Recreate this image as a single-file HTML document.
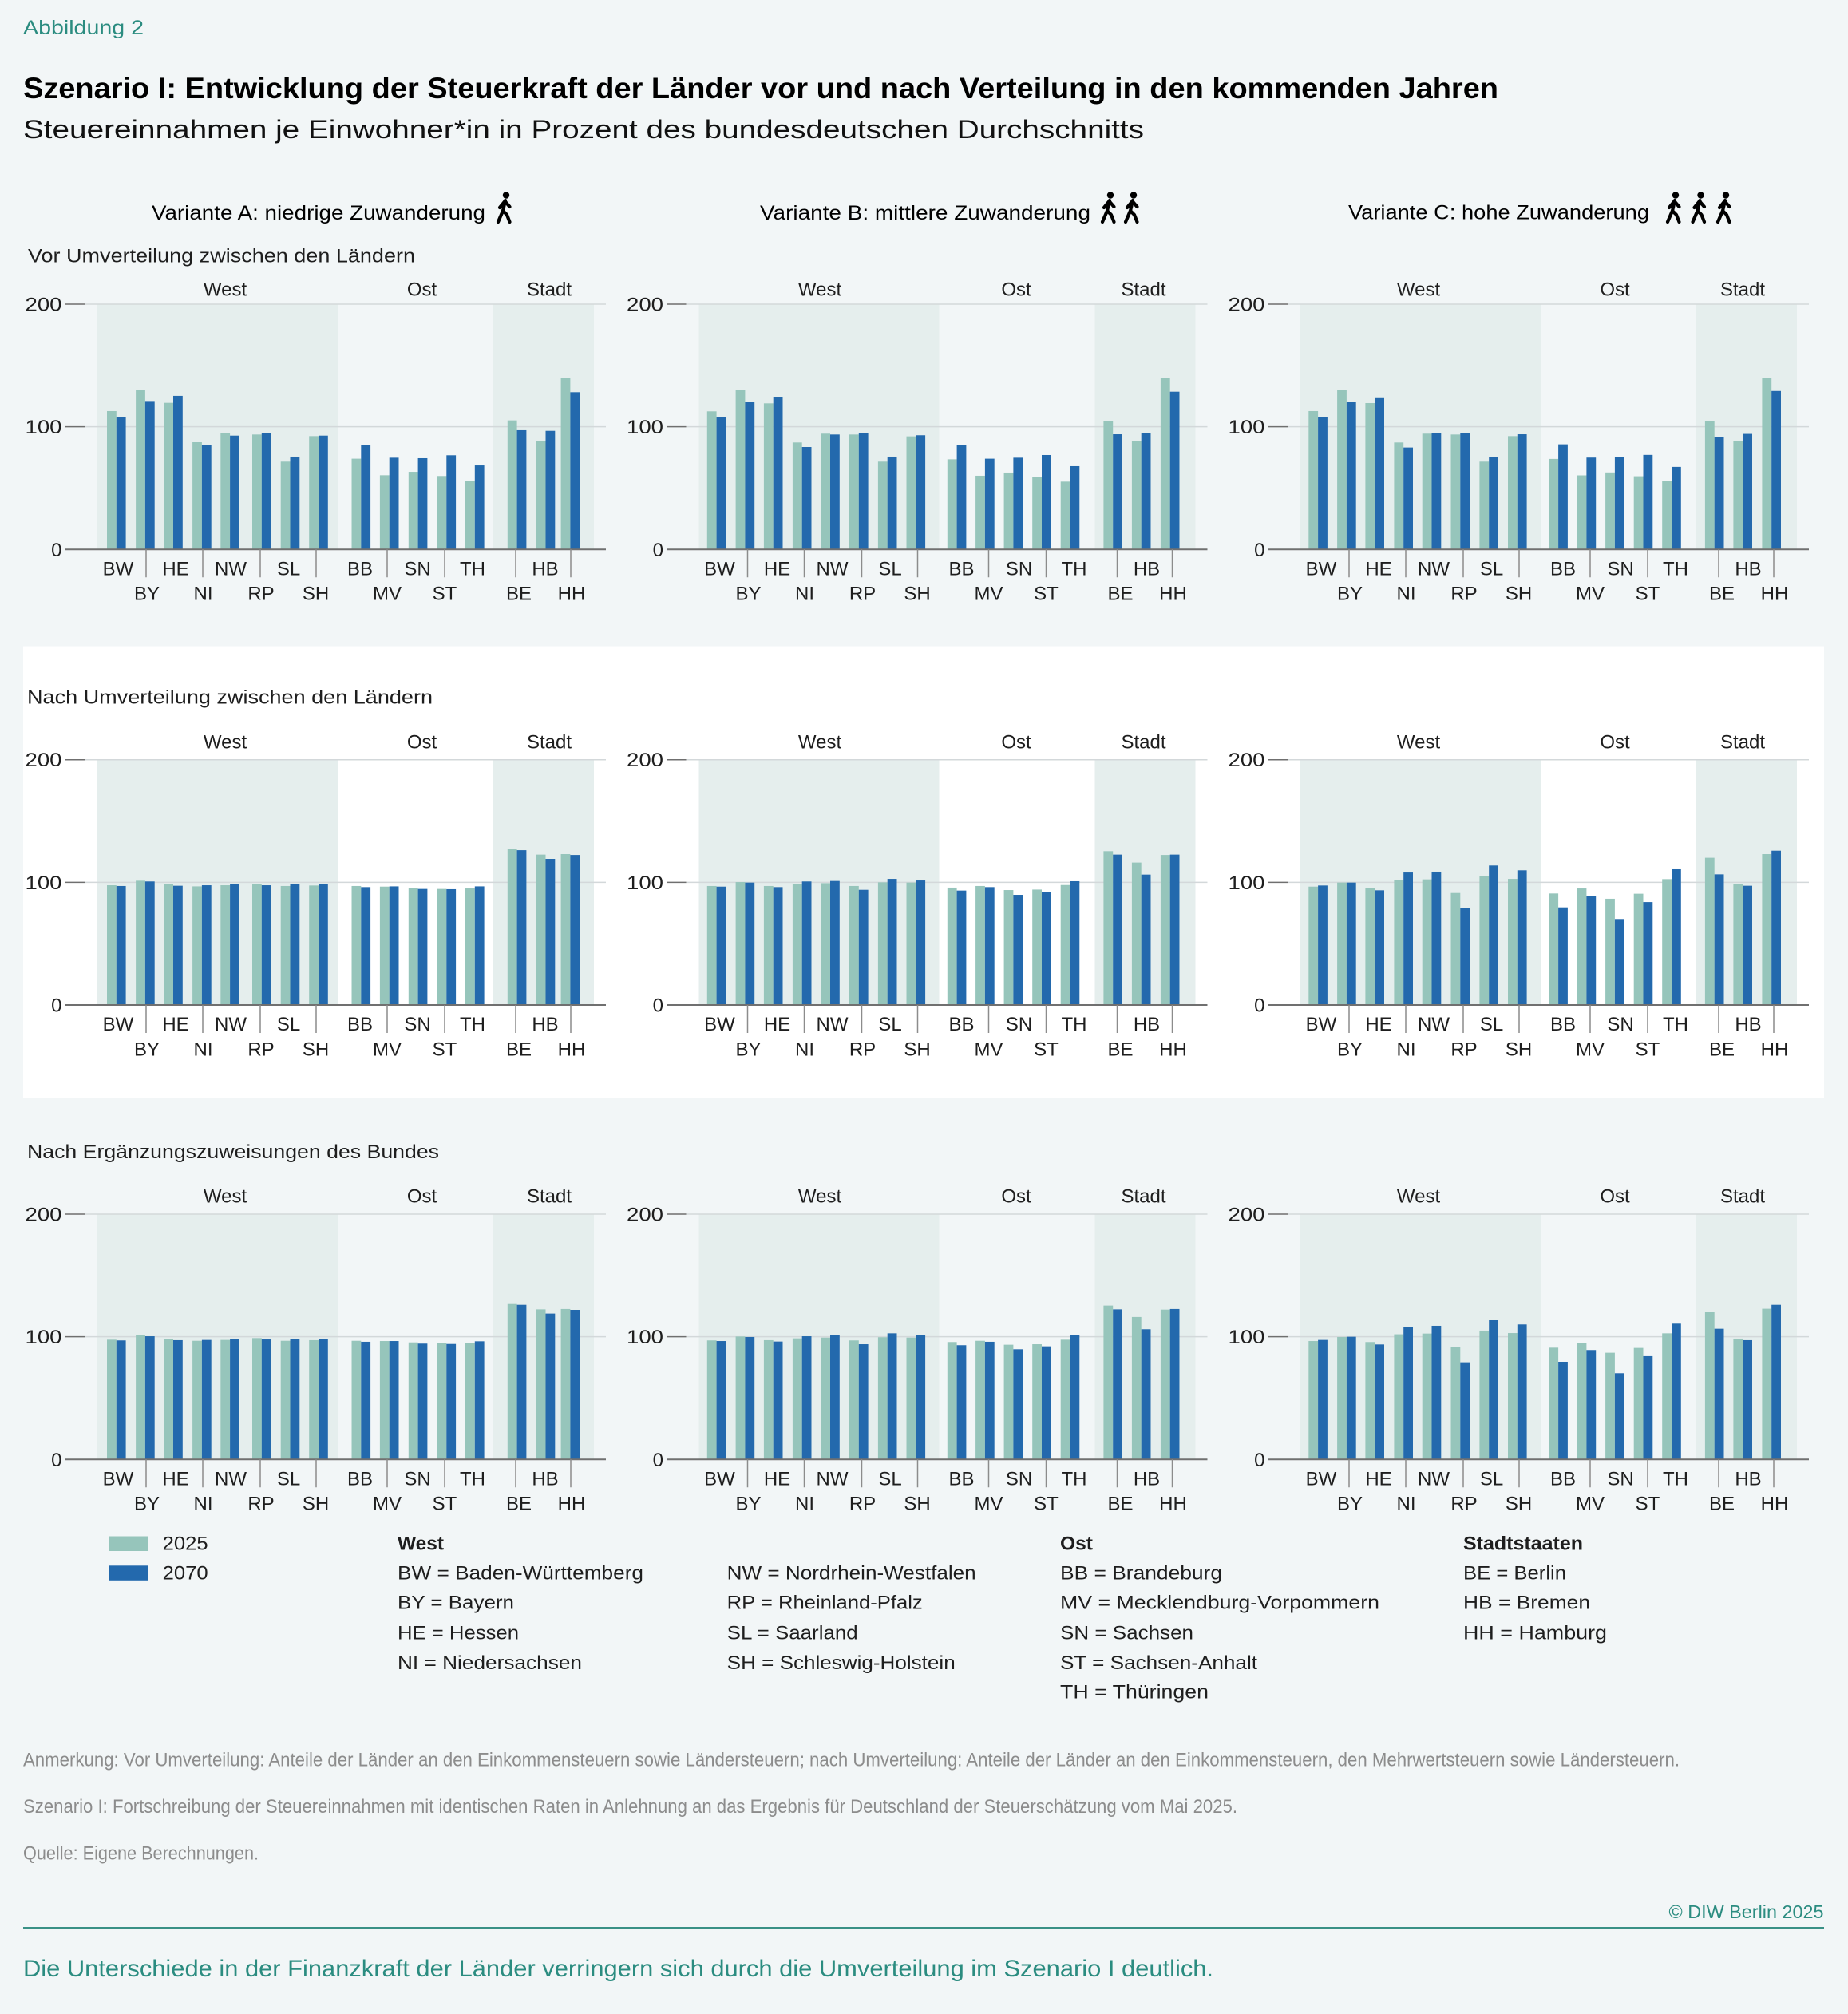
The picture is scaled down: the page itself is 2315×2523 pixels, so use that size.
<!DOCTYPE html>
<html><head><meta charset="utf-8">
<style>
html,body{margin:0;padding:0;background:#f2f6f7;}
svg{display:block;}
text{font-family:"Liberation Sans",sans-serif;fill:#1e1e1e;}
.t{font-size:24px;text-anchor:middle;}
.y{font-size:24px;}
.ye{font-size:24px;text-anchor:end;}
.a{fill:#96c5bb;}
.b{fill:#2369ad;}
.g{stroke:#d3d8da;stroke-width:1.5;}
.k{stroke:#6f6f6f;stroke-width:1.5;}
.z{stroke:#707070;stroke-width:2;}
.s{stroke:#8c8c8c;stroke-width:1.5;fill:none;}
.band{fill:#e5eeed;}
.lg{font-size:24px;}
.note{font-size:24px;fill:#8c8c8c;}
.teal{fill:#2b8c80;}
</style></head><body>
<svg width="2315" height="2523" viewBox="0 0 2315 2523" xmlns="http://www.w3.org/2000/svg">
<defs>
<symbol id="walk" viewBox="0 0 26 40">
<circle cx="14" cy="4.5" r="4.2" fill="#000"/>
<path d="M13 11 L10 24 M12.5 12 L6 20 M12.5 12 L18.5 19 M10 24 L4 38 M10 24 L15 29 L18.5 38" stroke="#000" stroke-width="4.2" stroke-linecap="round" stroke-linejoin="round" fill="none"/>
</symbol>
</defs>
<rect x="0" y="0" width="2315" height="2523" fill="#f2f6f7"/>
<rect x="29" y="809.5" width="2256" height="566" fill="#ffffff"/>

<text x="29" y="43" font-size="25" class="teal" textLength="151" lengthAdjust="spacingAndGlyphs">Abbildung 2</text>
<text x="29" y="123" font-size="37" font-weight="bold" textLength="1848" lengthAdjust="spacingAndGlyphs" style="fill:#000">Szenario I: Entwicklung der Steuerkraft der Länder vor und nach Verteilung in den kommenden Jahren</text>
<text x="29" y="173" font-size="32" textLength="1404" lengthAdjust="spacingAndGlyphs" style="fill:#111">Steuereinnahmen je Einwohner*in in Prozent des bundesdeutschen Durchschnitts</text>

<text x="190" y="275" font-size="25" textLength="418" lengthAdjust="spacingAndGlyphs" style="fill:#000">Variante A: niedrige Zuwanderung</text>
<use href="#walk" x="620" y="240" width="26" height="40"/>
<text x="952" y="275" font-size="25" textLength="414" lengthAdjust="spacingAndGlyphs" style="fill:#000">Variante B: mittlere Zuwanderung</text>
<use href="#walk" x="1377" y="240" width="26" height="40"/>
<use href="#walk" x="1406" y="240" width="26" height="40"/>
<text x="1689" y="274.5" font-size="25" textLength="377" lengthAdjust="spacingAndGlyphs" style="fill:#000">Variante C: hohe Zuwanderung</text>
<use href="#walk" x="2085" y="240" width="26" height="40"/>
<use href="#walk" x="2116.5" y="240" width="26" height="40"/>
<use href="#walk" x="2148" y="240" width="26" height="40"/>

<text x="35" y="328.3" font-size="24" textLength="485" lengthAdjust="spacingAndGlyphs">Vor Umverteilung zwischen den Ländern</text>
<text x="34" y="881.6" font-size="24" textLength="508" lengthAdjust="spacingAndGlyphs">Nach Umverteilung zwischen den Ländern</text>
<text x="34" y="1451" font-size="24" textLength="516" lengthAdjust="spacingAndGlyphs">Nach Ergänzungszuweisungen des Bundes</text>

<!-- ============ ROW 1 ============ -->
<g transform="translate(0,0)">
<rect class="band" x="122" y="381" width="301" height="307.3"/>
<rect class="band" x="618" y="381" width="126" height="307.3"/>
<line class="g" x1="106" y1="381" x2="759" y2="381"/>
<line class="g" x1="106" y1="534.65" x2="759" y2="534.65"/>
<line class="k" x1="82" y1="381" x2="106" y2="381"/>
<line class="k" x1="82" y1="534.65" x2="106" y2="534.65"/>
<text class="y" x="31.5" y="389.5" textLength="46" lengthAdjust="spacingAndGlyphs">200</text>
<text class="y" x="31.5" y="543.2" textLength="46" lengthAdjust="spacingAndGlyphs">100</text>
<text class="ye" x="77.5" y="696.8">0</text>
<text class="t" x="282" y="370.7">West</text><text class="t" x="528.5" y="370.7">Ost</text><text class="t" x="688" y="370.7">Stadt</text>
<g transform="translate(0,688.3) scale(1,-1.5365)">
<rect class="a" x="134" width="11.8" height="112.8"/><rect class="b" x="145.8" width="11.8" height="108.0"/>
<rect class="a" x="170.1" width="11.8" height="129.9"/><rect class="b" x="181.9" width="11.8" height="121.0"/>
<rect class="a" x="205.2" width="11.8" height="119.5"/><rect class="b" x="217" width="11.8" height="125.2"/>
<rect class="a" x="241.1" width="11.8" height="87.4"/><rect class="b" x="252.9" width="11.8" height="85.0"/>
<rect class="a" x="276.3" width="11.8" height="94.6"/><rect class="b" x="288.1" width="11.8" height="92.8"/>
<rect class="a" x="316" width="11.8" height="93.7"/><rect class="b" x="327.8" width="11.8" height="95.2"/>
<rect class="a" x="351.7" width="11.8" height="71.6"/><rect class="b" x="363.5" width="11.8" height="75.7"/>
<rect class="a" x="387.2" width="11.8" height="92.4"/><rect class="b" x="399" width="11.8" height="92.8"/>
<rect class="a" x="440.5" width="11.8" height="74.0"/><rect class="b" x="452.3" width="11.8" height="85.0"/>
<rect class="a" x="475.9" width="11.8" height="60.5"/><rect class="b" x="487.7" width="11.8" height="74.8"/>
<rect class="a" x="511.8" width="11.8" height="63.3"/><rect class="b" x="523.6" width="11.8" height="74.4"/>
<rect class="a" x="547.5" width="11.8" height="59.9"/><rect class="b" x="559.3" width="11.8" height="76.8"/>
<rect class="a" x="583" width="11.8" height="55.7"/><rect class="b" x="594.8" width="11.8" height="68.5"/>
<rect class="a" x="635.8" width="11.8" height="105.2"/><rect class="b" x="647.6" width="11.8" height="97.2"/>
<rect class="a" x="671.7" width="11.8" height="88.3"/><rect class="b" x="683.5" width="11.8" height="96.7"/>
<rect class="a" x="702.6" width="11.8" height="139.7"/><rect class="b" x="714.4" width="11.8" height="128.2"/>
</g>
<line class="z" x1="82" y1="688.3" x2="759" y2="688.3"/>
<path class="s" d="M183 688.3V723.3M254 688.3V723.3M326 688.3V723.3M396 688.3V723.3M485 688.3V723.3M557 688.3V723.3M646 688.3V723.3M715 688.3V723.3"/>
<text class="t" x="148" y="720.5">BW</text><text class="t" x="220" y="720.5">HE</text><text class="t" x="289" y="720.5">NW</text><text class="t" x="361.5" y="720.5">SL</text><text class="t" x="451" y="720.5">BB</text><text class="t" x="523" y="720.5">SN</text><text class="t" x="592" y="720.5">TH</text><text class="t" x="683" y="720.5">HB</text>
<text class="t" x="184" y="751.6">BY</text><text class="t" x="254.5" y="751.6">NI</text><text class="t" x="327" y="751.6">RP</text><text class="t" x="395.5" y="751.6">SH</text><text class="t" x="485" y="751.6">MV</text><text class="t" x="557" y="751.6">ST</text><text class="t" x="650" y="751.6">BE</text><text class="t" x="716" y="751.6">HH</text>
</g>

<g transform="translate(753.5,0)">
<rect class="band" x="122" y="381" width="301" height="307.3"/>
<rect class="band" x="618" y="381" width="126" height="307.3"/>
<line class="g" x1="106" y1="381" x2="759" y2="381"/>
<line class="g" x1="106" y1="534.65" x2="759" y2="534.65"/>
<line class="k" x1="82" y1="381" x2="106" y2="381"/>
<line class="k" x1="82" y1="534.65" x2="106" y2="534.65"/>
<text class="y" x="31.5" y="389.5" textLength="46" lengthAdjust="spacingAndGlyphs">200</text>
<text class="y" x="31.5" y="543.2" textLength="46" lengthAdjust="spacingAndGlyphs">100</text>
<text class="ye" x="77.5" y="696.8">0</text>
<text class="t" x="273.5" y="370.7">West</text><text class="t" x="519.5" y="370.7">Ost</text><text class="t" x="679" y="370.7">Stadt</text>
<g transform="translate(0,688.3) scale(1,-1.5365)">
<rect class="a" x="132.3" width="11.8" height="112.6"/><rect class="b" x="144.1" width="11.8" height="107.8"/>
<rect class="a" x="168.1" width="11.8" height="129.9"/><rect class="b" x="179.9" width="11.8" height="120.0"/>
<rect class="a" x="203.4" width="11.8" height="119.1"/><rect class="b" x="215.2" width="11.8" height="124.5"/>
<rect class="a" x="239.4" width="11.8" height="87.2"/><rect class="b" x="251.2" width="11.8" height="83.5"/>
<rect class="a" x="274.7" width="11.8" height="94.4"/><rect class="b" x="286.5" width="11.8" height="93.7"/>
<rect class="a" x="310.5" width="11.8" height="93.7"/><rect class="b" x="322.3" width="11.8" height="94.6"/>
<rect class="a" x="346.4" width="11.8" height="71.6"/><rect class="b" x="358.2" width="11.8" height="75.7"/>
<rect class="a" x="382" width="11.8" height="92.2"/><rect class="b" x="393.8" width="11.8" height="93.1"/>
<rect class="a" x="433.3" width="11.8" height="73.5"/><rect class="b" x="445.1" width="11.8" height="85.0"/>
<rect class="a" x="468.6" width="11.8" height="60.1"/><rect class="b" x="480.4" width="11.8" height="74.0"/>
<rect class="a" x="504.1" width="11.8" height="62.7"/><rect class="b" x="515.9" width="11.8" height="74.8"/>
<rect class="a" x="539.7" width="11.8" height="59.4"/><rect class="b" x="551.5" width="11.8" height="77.0"/>
<rect class="a" x="575.2" width="11.8" height="55.3"/><rect class="b" x="587" width="11.8" height="67.9"/>
<rect class="a" x="628.9" width="11.8" height="104.8"/><rect class="b" x="640.7" width="11.8" height="93.9"/>
<rect class="a" x="664.4" width="11.8" height="88.1"/><rect class="b" x="676.2" width="11.8" height="95.0"/>
<rect class="a" x="700.4" width="11.8" height="139.7"/><rect class="b" x="712.2" width="11.8" height="128.6"/>
</g>
<line class="z" x1="82" y1="688.3" x2="759" y2="688.3"/>
<path class="s" d="M183 688.3V723.3M254 688.3V723.3M326 688.3V723.3M396 688.3V723.3M485 688.3V723.3M557 688.3V723.3M646 688.3V723.3M715 688.3V723.3"/>
<text class="t" x="148" y="720.5">BW</text><text class="t" x="220" y="720.5">HE</text><text class="t" x="289" y="720.5">NW</text><text class="t" x="361.5" y="720.5">SL</text><text class="t" x="451" y="720.5">BB</text><text class="t" x="523" y="720.5">SN</text><text class="t" x="592" y="720.5">TH</text><text class="t" x="683" y="720.5">HB</text>
<text class="t" x="184" y="751.6">BY</text><text class="t" x="254.5" y="751.6">NI</text><text class="t" x="327" y="751.6">RP</text><text class="t" x="395.5" y="751.6">SH</text><text class="t" x="485" y="751.6">MV</text><text class="t" x="557" y="751.6">ST</text><text class="t" x="650" y="751.6">BE</text><text class="t" x="716" y="751.6">HH</text>
</g>

<g transform="translate(1507,0)">
<rect class="band" x="122" y="381" width="301" height="307.3"/>
<rect class="band" x="618" y="381" width="126" height="307.3"/>
<line class="g" x1="106" y1="381" x2="759" y2="381"/>
<line class="g" x1="106" y1="534.65" x2="759" y2="534.65"/>
<line class="k" x1="82" y1="381" x2="106" y2="381"/>
<line class="k" x1="82" y1="534.65" x2="106" y2="534.65"/>
<text class="y" x="31.5" y="389.5" textLength="46" lengthAdjust="spacingAndGlyphs">200</text>
<text class="y" x="31.5" y="543.2" textLength="46" lengthAdjust="spacingAndGlyphs">100</text>
<text class="ye" x="77.5" y="696.8">0</text>
<text class="t" x="270" y="370.7">West</text><text class="t" x="516" y="370.7">Ost</text><text class="t" x="676" y="370.7">Stadt</text>
<g transform="translate(0,688.3) scale(1,-1.5365)">
<rect class="a" x="132.3" width="11.8" height="112.8"/><rect class="b" x="144.1" width="11.8" height="108.0"/>
<rect class="a" x="168.1" width="11.8" height="129.9"/><rect class="b" x="179.9" width="11.8" height="120.1"/>
<rect class="a" x="203.4" width="11.8" height="119.3"/><rect class="b" x="215.2" width="11.8" height="124.0"/>
<rect class="a" x="239.4" width="11.8" height="87.2"/><rect class="b" x="251.2" width="11.8" height="83.1"/>
<rect class="a" x="274.7" width="11.8" height="94.4"/><rect class="b" x="286.5" width="11.8" height="94.8"/>
<rect class="a" x="310.5" width="11.8" height="93.7"/><rect class="b" x="322.3" width="11.8" height="94.8"/>
<rect class="a" x="346.4" width="11.8" height="71.6"/><rect class="b" x="358.2" width="11.8" height="75.3"/>
<rect class="a" x="382" width="11.8" height="92.4"/><rect class="b" x="393.8" width="11.8" height="93.9"/>
<rect class="a" x="433.3" width="11.8" height="73.8"/><rect class="b" x="445.1" width="11.8" height="85.7"/>
<rect class="a" x="468.6" width="11.8" height="60.4"/><rect class="b" x="480.4" width="11.8" height="74.9"/>
<rect class="a" x="504.1" width="11.8" height="62.8"/><rect class="b" x="515.9" width="11.8" height="75.3"/>
<rect class="a" x="539.7" width="11.8" height="59.7"/><rect class="b" x="551.5" width="11.8" height="77.1"/>
<rect class="a" x="575.2" width="11.8" height="55.6"/><rect class="b" x="587" width="11.8" height="67.3"/>
<rect class="a" x="628.9" width="11.8" height="104.5"/><rect class="b" x="640.7" width="11.8" height="91.6"/>
<rect class="a" x="664.4" width="11.8" height="88.1"/><rect class="b" x="676.2" width="11.8" height="94.2"/>
<rect class="a" x="700.4" width="11.8" height="139.6"/><rect class="b" x="712.2" width="11.8" height="129.2"/>
</g>
<line class="z" x1="82" y1="688.3" x2="759" y2="688.3"/>
<path class="s" d="M183 688.3V723.3M254 688.3V723.3M326 688.3V723.3M396 688.3V723.3M485 688.3V723.3M557 688.3V723.3M646 688.3V723.3M715 688.3V723.3"/>
<text class="t" x="148" y="720.5">BW</text><text class="t" x="220" y="720.5">HE</text><text class="t" x="289" y="720.5">NW</text><text class="t" x="361.5" y="720.5">SL</text><text class="t" x="451" y="720.5">BB</text><text class="t" x="523" y="720.5">SN</text><text class="t" x="592" y="720.5">TH</text><text class="t" x="683" y="720.5">HB</text>
<text class="t" x="184" y="751.6">BY</text><text class="t" x="254.5" y="751.6">NI</text><text class="t" x="327" y="751.6">RP</text><text class="t" x="395.5" y="751.6">SH</text><text class="t" x="485" y="751.6">MV</text><text class="t" x="557" y="751.6">ST</text><text class="t" x="650" y="751.6">BE</text><text class="t" x="716" y="751.6">HH</text>
</g>

<!-- ============ ROW 2 ============ -->
<g transform="translate(0,570.7)">
<rect class="band" x="122" y="381" width="301" height="307.3"/>
<rect class="band" x="618" y="381" width="126" height="307.3"/>
<line class="g" x1="106" y1="381" x2="759" y2="381"/>
<line class="g" x1="106" y1="534.65" x2="759" y2="534.65"/>
<line class="k" x1="82" y1="381" x2="106" y2="381"/>
<line class="k" x1="82" y1="534.65" x2="106" y2="534.65"/>
<text class="y" x="31.5" y="389.5" textLength="46" lengthAdjust="spacingAndGlyphs">200</text>
<text class="y" x="31.5" y="543.2" textLength="46" lengthAdjust="spacingAndGlyphs">100</text>
<text class="ye" x="77.5" y="696.8">0</text>
<text class="t" x="282" y="366.7">West</text><text class="t" x="528.5" y="366.7">Ost</text><text class="t" x="688" y="366.7">Stadt</text>
<g transform="translate(0,688.3) scale(1,-1.5365)">
<rect class="a" x="134" width="11.8" height="97.6"/><rect class="b" x="145.8" width="11.8" height="97.0"/>
<rect class="a" x="170.1" width="11.8" height="101.3"/><rect class="b" x="181.9" width="11.8" height="100.7"/>
<rect class="a" x="205.2" width="11.8" height="98.3"/><rect class="b" x="217" width="11.8" height="97.2"/>
<rect class="a" x="241.1" width="11.8" height="96.7"/><rect class="b" x="252.9" width="11.8" height="97.6"/>
<rect class="a" x="276.3" width="11.8" height="97.6"/><rect class="b" x="288.1" width="11.8" height="98.5"/>
<rect class="a" x="316" width="11.8" height="98.9"/><rect class="b" x="327.8" width="11.8" height="97.6"/>
<rect class="a" x="351.7" width="11.8" height="97.0"/><rect class="b" x="363.5" width="11.8" height="98.5"/>
<rect class="a" x="387.2" width="11.8" height="97.4"/><rect class="b" x="399" width="11.8" height="98.5"/>
<rect class="a" x="440.5" width="11.8" height="97.0"/><rect class="b" x="452.3" width="11.8" height="96.1"/>
<rect class="a" x="475.9" width="11.8" height="96.5"/><rect class="b" x="487.7" width="11.8" height="96.7"/>
<rect class="a" x="511.8" width="11.8" height="95.4"/><rect class="b" x="523.6" width="11.8" height="94.6"/>
<rect class="a" x="547.5" width="11.8" height="94.6"/><rect class="b" x="559.3" width="11.8" height="94.4"/>
<rect class="a" x="583" width="11.8" height="95.0"/><rect class="b" x="594.8" width="11.8" height="96.7"/>
<rect class="a" x="635.8" width="11.8" height="127.5"/><rect class="b" x="647.6" width="11.8" height="126.2"/>
<rect class="a" x="671.7" width="11.8" height="122.6"/><rect class="b" x="683.5" width="11.8" height="119.1"/>
<rect class="a" x="702.6" width="11.8" height="123.0"/><rect class="b" x="714.4" width="11.8" height="122.3"/>
</g>
<line class="z" x1="82" y1="688.3" x2="759" y2="688.3"/>
<path class="s" d="M183 688.3V723.3M254 688.3V723.3M326 688.3V723.3M396 688.3V723.3M485 688.3V723.3M557 688.3V723.3M646 688.3V723.3M715 688.3V723.3"/>
<text class="t" x="148" y="720.5">BW</text><text class="t" x="220" y="720.5">HE</text><text class="t" x="289" y="720.5">NW</text><text class="t" x="361.5" y="720.5">SL</text><text class="t" x="451" y="720.5">BB</text><text class="t" x="523" y="720.5">SN</text><text class="t" x="592" y="720.5">TH</text><text class="t" x="683" y="720.5">HB</text>
<text class="t" x="184" y="751.6">BY</text><text class="t" x="254.5" y="751.6">NI</text><text class="t" x="327" y="751.6">RP</text><text class="t" x="395.5" y="751.6">SH</text><text class="t" x="485" y="751.6">MV</text><text class="t" x="557" y="751.6">ST</text><text class="t" x="650" y="751.6">BE</text><text class="t" x="716" y="751.6">HH</text>
</g>

<g transform="translate(753.5,570.7)">
<rect class="band" x="122" y="381" width="301" height="307.3"/>
<rect class="band" x="618" y="381" width="126" height="307.3"/>
<line class="g" x1="106" y1="381" x2="759" y2="381"/>
<line class="g" x1="106" y1="534.65" x2="759" y2="534.65"/>
<line class="k" x1="82" y1="381" x2="106" y2="381"/>
<line class="k" x1="82" y1="534.65" x2="106" y2="534.65"/>
<text class="y" x="31.5" y="389.5" textLength="46" lengthAdjust="spacingAndGlyphs">200</text>
<text class="y" x="31.5" y="543.2" textLength="46" lengthAdjust="spacingAndGlyphs">100</text>
<text class="ye" x="77.5" y="696.8">0</text>
<text class="t" x="273.5" y="366.7">West</text><text class="t" x="519.5" y="366.7">Ost</text><text class="t" x="679" y="366.7">Stadt</text>
<g transform="translate(0,688.3) scale(1,-1.5365)">
<rect class="a" x="132.3" width="11.8" height="97.0"/><rect class="b" x="144.1" width="11.8" height="96.5"/>
<rect class="a" x="168.1" width="11.8" height="100.2"/><rect class="b" x="179.9" width="11.8" height="99.8"/>
<rect class="a" x="203.4" width="11.8" height="97.0"/><rect class="b" x="215.2" width="11.8" height="96.1"/>
<rect class="a" x="239.4" width="11.8" height="98.7"/><rect class="b" x="251.2" width="11.8" height="100.7"/>
<rect class="a" x="274.7" width="11.8" height="99.3"/><rect class="b" x="286.5" width="11.8" height="101.1"/>
<rect class="a" x="310.5" width="11.8" height="97.0"/><rect class="b" x="322.3" width="11.8" height="93.9"/>
<rect class="a" x="346.4" width="11.8" height="100.0"/><rect class="b" x="358.2" width="11.8" height="102.8"/>
<rect class="a" x="382" width="11.8" height="99.8"/><rect class="b" x="393.8" width="11.8" height="101.5"/>
<rect class="a" x="433.3" width="11.8" height="95.7"/><rect class="b" x="445.1" width="11.8" height="93.3"/>
<rect class="a" x="468.6" width="11.8" height="97.0"/><rect class="b" x="480.4" width="11.8" height="96.1"/>
<rect class="a" x="504.1" width="11.8" height="93.7"/><rect class="b" x="515.9" width="11.8" height="89.8"/>
<rect class="a" x="539.7" width="11.8" height="94.1"/><rect class="b" x="551.5" width="11.8" height="92.2"/>
<rect class="a" x="575.2" width="11.8" height="97.8"/><rect class="b" x="587" width="11.8" height="100.9"/>
<rect class="a" x="628.9" width="11.8" height="125.4"/><rect class="b" x="640.7" width="11.8" height="122.6"/>
<rect class="a" x="664.4" width="11.8" height="116.1"/><rect class="b" x="676.2" width="11.8" height="106.3"/>
<rect class="a" x="700.4" width="11.8" height="122.3"/><rect class="b" x="712.2" width="11.8" height="122.6"/>
</g>
<line class="z" x1="82" y1="688.3" x2="759" y2="688.3"/>
<path class="s" d="M183 688.3V723.3M254 688.3V723.3M326 688.3V723.3M396 688.3V723.3M485 688.3V723.3M557 688.3V723.3M646 688.3V723.3M715 688.3V723.3"/>
<text class="t" x="148" y="720.5">BW</text><text class="t" x="220" y="720.5">HE</text><text class="t" x="289" y="720.5">NW</text><text class="t" x="361.5" y="720.5">SL</text><text class="t" x="451" y="720.5">BB</text><text class="t" x="523" y="720.5">SN</text><text class="t" x="592" y="720.5">TH</text><text class="t" x="683" y="720.5">HB</text>
<text class="t" x="184" y="751.6">BY</text><text class="t" x="254.5" y="751.6">NI</text><text class="t" x="327" y="751.6">RP</text><text class="t" x="395.5" y="751.6">SH</text><text class="t" x="485" y="751.6">MV</text><text class="t" x="557" y="751.6">ST</text><text class="t" x="650" y="751.6">BE</text><text class="t" x="716" y="751.6">HH</text>
</g>

<g transform="translate(1507,570.7)">
<rect class="band" x="122" y="381" width="301" height="307.3"/>
<rect class="band" x="618" y="381" width="126" height="307.3"/>
<line class="g" x1="106" y1="381" x2="759" y2="381"/>
<line class="g" x1="106" y1="534.65" x2="759" y2="534.65"/>
<line class="k" x1="82" y1="381" x2="106" y2="381"/>
<line class="k" x1="82" y1="534.65" x2="106" y2="534.65"/>
<text class="y" x="31.5" y="389.5" textLength="46" lengthAdjust="spacingAndGlyphs">200</text>
<text class="y" x="31.5" y="543.2" textLength="46" lengthAdjust="spacingAndGlyphs">100</text>
<text class="ye" x="77.5" y="696.8">0</text>
<text class="t" x="270" y="366.7">West</text><text class="t" x="516" y="366.7">Ost</text><text class="t" x="676" y="366.7">Stadt</text>
<g transform="translate(0,688.3) scale(1,-1.5365)">
<rect class="a" x="132.3" width="11.8" height="96.5"/><rect class="b" x="144.1" width="11.8" height="97.4"/>
<rect class="a" x="168.1" width="11.8" height="99.8"/><rect class="b" x="179.9" width="11.8" height="99.8"/>
<rect class="a" x="203.4" width="11.8" height="95.4"/><rect class="b" x="215.2" width="11.8" height="93.5"/>
<rect class="a" x="239.4" width="11.8" height="101.7"/><rect class="b" x="251.2" width="11.8" height="108.0"/>
<rect class="a" x="274.7" width="11.8" height="102.4"/><rect class="b" x="286.5" width="11.8" height="108.7"/>
<rect class="a" x="310.5" width="11.8" height="91.3"/><rect class="b" x="322.3" width="11.8" height="79.0"/>
<rect class="a" x="346.4" width="11.8" height="105.0"/><rect class="b" x="358.2" width="11.8" height="113.7"/>
<rect class="a" x="382" width="11.8" height="102.8"/><rect class="b" x="393.8" width="11.8" height="109.8"/>
<rect class="a" x="433.3" width="11.8" height="90.9"/><rect class="b" x="445.1" width="11.8" height="79.6"/>
<rect class="a" x="468.6" width="11.8" height="95.0"/><rect class="b" x="480.4" width="11.8" height="88.9"/>
<rect class="a" x="504.1" width="11.8" height="86.6"/><rect class="b" x="515.9" width="11.8" height="70.1"/>
<rect class="a" x="539.7" width="11.8" height="90.7"/><rect class="b" x="551.5" width="11.8" height="83.9"/>
<rect class="a" x="575.2" width="11.8" height="102.6"/><rect class="b" x="587" width="11.8" height="111.3"/>
<rect class="a" x="628.9" width="11.8" height="120.0"/><rect class="b" x="640.7" width="11.8" height="106.5"/>
<rect class="a" x="664.4" width="11.8" height="98.3"/><rect class="b" x="676.2" width="11.8" height="97.2"/>
<rect class="a" x="700.4" width="11.8" height="123.0"/><rect class="b" x="712.2" width="11.8" height="125.8"/>
</g>
<line class="z" x1="82" y1="688.3" x2="759" y2="688.3"/>
<path class="s" d="M183 688.3V723.3M254 688.3V723.3M326 688.3V723.3M396 688.3V723.3M485 688.3V723.3M557 688.3V723.3M646 688.3V723.3M715 688.3V723.3"/>
<text class="t" x="148" y="720.5">BW</text><text class="t" x="220" y="720.5">HE</text><text class="t" x="289" y="720.5">NW</text><text class="t" x="361.5" y="720.5">SL</text><text class="t" x="451" y="720.5">BB</text><text class="t" x="523" y="720.5">SN</text><text class="t" x="592" y="720.5">TH</text><text class="t" x="683" y="720.5">HB</text>
<text class="t" x="184" y="751.6">BY</text><text class="t" x="254.5" y="751.6">NI</text><text class="t" x="327" y="751.6">RP</text><text class="t" x="395.5" y="751.6">SH</text><text class="t" x="485" y="751.6">MV</text><text class="t" x="557" y="751.6">ST</text><text class="t" x="650" y="751.6">BE</text><text class="t" x="716" y="751.6">HH</text>
</g>

<!-- ============ ROW 3 ============ -->
<g transform="translate(0,1140)">
<rect class="band" x="122" y="381" width="301" height="307.3"/>
<rect class="band" x="618" y="381" width="126" height="307.3"/>
<line class="g" x1="106" y1="381" x2="759" y2="381"/>
<line class="g" x1="106" y1="534.65" x2="759" y2="534.65"/>
<line class="k" x1="82" y1="381" x2="106" y2="381"/>
<line class="k" x1="82" y1="534.65" x2="106" y2="534.65"/>
<text class="y" x="31.5" y="389.5" textLength="46" lengthAdjust="spacingAndGlyphs">200</text>
<text class="y" x="31.5" y="543.2" textLength="46" lengthAdjust="spacingAndGlyphs">100</text>
<text class="ye" x="77.5" y="696.8">0</text>
<text class="t" x="282" y="366.7">West</text><text class="t" x="528.5" y="366.7">Ost</text><text class="t" x="688" y="366.7">Stadt</text>
<g transform="translate(0,688.3) scale(1,-1.5365)">
<rect class="a" x="134" width="11.8" height="97.6"/><rect class="b" x="145.8" width="11.8" height="97.0"/>
<rect class="a" x="170.1" width="11.8" height="101.1"/><rect class="b" x="181.9" width="11.8" height="100.4"/>
<rect class="a" x="205.2" width="11.8" height="98.0"/><rect class="b" x="217" width="11.8" height="97.2"/>
<rect class="a" x="241.1" width="11.8" height="96.7"/><rect class="b" x="252.9" width="11.8" height="97.4"/>
<rect class="a" x="276.3" width="11.8" height="97.4"/><rect class="b" x="288.1" width="11.8" height="98.3"/>
<rect class="a" x="316" width="11.8" height="98.9"/><rect class="b" x="327.8" width="11.8" height="97.8"/>
<rect class="a" x="351.7" width="11.8" height="96.7"/><rect class="b" x="363.5" width="11.8" height="98.3"/>
<rect class="a" x="387.2" width="11.8" height="97.2"/><rect class="b" x="399" width="11.8" height="98.3"/>
<rect class="a" x="440.5" width="11.8" height="96.7"/><rect class="b" x="452.3" width="11.8" height="95.9"/>
<rect class="a" x="475.9" width="11.8" height="96.5"/><rect class="b" x="487.7" width="11.8" height="96.5"/>
<rect class="a" x="511.8" width="11.8" height="95.4"/><rect class="b" x="523.6" width="11.8" height="94.4"/>
<rect class="a" x="547.5" width="11.8" height="94.6"/><rect class="b" x="559.3" width="11.8" height="94.1"/>
<rect class="a" x="583" width="11.8" height="95.0"/><rect class="b" x="594.8" width="11.8" height="96.3"/>
<rect class="a" x="635.8" width="11.8" height="127.3"/><rect class="b" x="647.6" width="11.8" height="126.0"/>
<rect class="a" x="671.7" width="11.8" height="122.3"/><rect class="b" x="683.5" width="11.8" height="118.9"/>
<rect class="a" x="702.6" width="11.8" height="122.6"/><rect class="b" x="714.4" width="11.8" height="121.9"/>
</g>
<line class="z" x1="82" y1="688.3" x2="759" y2="688.3"/>
<path class="s" d="M183 688.3V723.3M254 688.3V723.3M326 688.3V723.3M396 688.3V723.3M485 688.3V723.3M557 688.3V723.3M646 688.3V723.3M715 688.3V723.3"/>
<text class="t" x="148" y="720.5">BW</text><text class="t" x="220" y="720.5">HE</text><text class="t" x="289" y="720.5">NW</text><text class="t" x="361.5" y="720.5">SL</text><text class="t" x="451" y="720.5">BB</text><text class="t" x="523" y="720.5">SN</text><text class="t" x="592" y="720.5">TH</text><text class="t" x="683" y="720.5">HB</text>
<text class="t" x="184" y="751.6">BY</text><text class="t" x="254.5" y="751.6">NI</text><text class="t" x="327" y="751.6">RP</text><text class="t" x="395.5" y="751.6">SH</text><text class="t" x="485" y="751.6">MV</text><text class="t" x="557" y="751.6">ST</text><text class="t" x="650" y="751.6">BE</text><text class="t" x="716" y="751.6">HH</text>
</g>

<g transform="translate(753.5,1140)">
<rect class="band" x="122" y="381" width="301" height="307.3"/>
<rect class="band" x="618" y="381" width="126" height="307.3"/>
<line class="g" x1="106" y1="381" x2="759" y2="381"/>
<line class="g" x1="106" y1="534.65" x2="759" y2="534.65"/>
<line class="k" x1="82" y1="381" x2="106" y2="381"/>
<line class="k" x1="82" y1="534.65" x2="106" y2="534.65"/>
<text class="y" x="31.5" y="389.5" textLength="46" lengthAdjust="spacingAndGlyphs">200</text>
<text class="y" x="31.5" y="543.2" textLength="46" lengthAdjust="spacingAndGlyphs">100</text>
<text class="ye" x="77.5" y="696.8">0</text>
<text class="t" x="273.5" y="366.7">West</text><text class="t" x="519.5" y="366.7">Ost</text><text class="t" x="679" y="366.7">Stadt</text>
<g transform="translate(0,688.3) scale(1,-1.5365)">
<rect class="a" x="132.3" width="11.8" height="97.0"/><rect class="b" x="144.1" width="11.8" height="96.5"/>
<rect class="a" x="168.1" width="11.8" height="100.2"/><rect class="b" x="179.9" width="11.8" height="99.8"/>
<rect class="a" x="203.4" width="11.8" height="97.2"/><rect class="b" x="215.2" width="11.8" height="96.1"/>
<rect class="a" x="239.4" width="11.8" height="98.7"/><rect class="b" x="251.2" width="11.8" height="100.4"/>
<rect class="a" x="274.7" width="11.8" height="99.3"/><rect class="b" x="286.5" width="11.8" height="101.1"/>
<rect class="a" x="310.5" width="11.8" height="97.0"/><rect class="b" x="322.3" width="11.8" height="93.9"/>
<rect class="a" x="346.4" width="11.8" height="99.6"/><rect class="b" x="358.2" width="11.8" height="102.8"/>
<rect class="a" x="382" width="11.8" height="99.3"/><rect class="b" x="393.8" width="11.8" height="101.5"/>
<rect class="a" x="433.3" width="11.8" height="95.7"/><rect class="b" x="445.1" width="11.8" height="93.1"/>
<rect class="a" x="468.6" width="11.8" height="96.7"/><rect class="b" x="480.4" width="11.8" height="95.9"/>
<rect class="a" x="504.1" width="11.8" height="93.5"/><rect class="b" x="515.9" width="11.8" height="89.8"/>
<rect class="a" x="539.7" width="11.8" height="93.9"/><rect class="b" x="551.5" width="11.8" height="92.2"/>
<rect class="a" x="575.2" width="11.8" height="97.6"/><rect class="b" x="587" width="11.8" height="101.1"/>
<rect class="a" x="628.9" width="11.8" height="125.4"/><rect class="b" x="640.7" width="11.8" height="122.3"/>
<rect class="a" x="664.4" width="11.8" height="116.1"/><rect class="b" x="676.2" width="11.8" height="106.1"/>
<rect class="a" x="700.4" width="11.8" height="122.1"/><rect class="b" x="712.2" width="11.8" height="122.6"/>
</g>
<line class="z" x1="82" y1="688.3" x2="759" y2="688.3"/>
<path class="s" d="M183 688.3V723.3M254 688.3V723.3M326 688.3V723.3M396 688.3V723.3M485 688.3V723.3M557 688.3V723.3M646 688.3V723.3M715 688.3V723.3"/>
<text class="t" x="148" y="720.5">BW</text><text class="t" x="220" y="720.5">HE</text><text class="t" x="289" y="720.5">NW</text><text class="t" x="361.5" y="720.5">SL</text><text class="t" x="451" y="720.5">BB</text><text class="t" x="523" y="720.5">SN</text><text class="t" x="592" y="720.5">TH</text><text class="t" x="683" y="720.5">HB</text>
<text class="t" x="184" y="751.6">BY</text><text class="t" x="254.5" y="751.6">NI</text><text class="t" x="327" y="751.6">RP</text><text class="t" x="395.5" y="751.6">SH</text><text class="t" x="485" y="751.6">MV</text><text class="t" x="557" y="751.6">ST</text><text class="t" x="650" y="751.6">BE</text><text class="t" x="716" y="751.6">HH</text>
</g>

<g transform="translate(1507,1140)">
<rect class="band" x="122" y="381" width="301" height="307.3"/>
<rect class="band" x="618" y="381" width="126" height="307.3"/>
<line class="g" x1="106" y1="381" x2="759" y2="381"/>
<line class="g" x1="106" y1="534.65" x2="759" y2="534.65"/>
<line class="k" x1="82" y1="381" x2="106" y2="381"/>
<line class="k" x1="82" y1="534.65" x2="106" y2="534.65"/>
<text class="y" x="31.5" y="389.5" textLength="46" lengthAdjust="spacingAndGlyphs">200</text>
<text class="y" x="31.5" y="543.2" textLength="46" lengthAdjust="spacingAndGlyphs">100</text>
<text class="ye" x="77.5" y="696.8">0</text>
<text class="t" x="270" y="366.7">West</text><text class="t" x="516" y="366.7">Ost</text><text class="t" x="676" y="366.7">Stadt</text>
<g transform="translate(0,688.3) scale(1,-1.5365)">
<rect class="a" x="132.3" width="11.8" height="96.5"/><rect class="b" x="144.1" width="11.8" height="97.4"/>
<rect class="a" x="168.1" width="11.8" height="99.8"/><rect class="b" x="179.9" width="11.8" height="100.0"/>
<rect class="a" x="203.4" width="11.8" height="95.7"/><rect class="b" x="215.2" width="11.8" height="93.7"/>
<rect class="a" x="239.4" width="11.8" height="102.0"/><rect class="b" x="251.2" width="11.8" height="108.2"/>
<rect class="a" x="274.7" width="11.8" height="102.6"/><rect class="b" x="286.5" width="11.8" height="108.9"/>
<rect class="a" x="310.5" width="11.8" height="91.5"/><rect class="b" x="322.3" width="11.8" height="79.2"/>
<rect class="a" x="346.4" width="11.8" height="105.0"/><rect class="b" x="358.2" width="11.8" height="113.9"/>
<rect class="a" x="382" width="11.8" height="103.0"/><rect class="b" x="393.8" width="11.8" height="110.0"/>
<rect class="a" x="433.3" width="11.8" height="91.1"/><rect class="b" x="445.1" width="11.8" height="79.6"/>
<rect class="a" x="468.6" width="11.8" height="95.2"/><rect class="b" x="480.4" width="11.8" height="89.2"/>
<rect class="a" x="504.1" width="11.8" height="87.0"/><rect class="b" x="515.9" width="11.8" height="70.3"/>
<rect class="a" x="539.7" width="11.8" height="90.9"/><rect class="b" x="551.5" width="11.8" height="84.2"/>
<rect class="a" x="575.2" width="11.8" height="102.8"/><rect class="b" x="587" width="11.8" height="111.3"/>
<rect class="a" x="628.9" width="11.8" height="120.2"/><rect class="b" x="640.7" width="11.8" height="106.5"/>
<rect class="a" x="664.4" width="11.8" height="98.5"/><rect class="b" x="676.2" width="11.8" height="97.2"/>
<rect class="a" x="700.4" width="11.8" height="122.8"/><rect class="b" x="712.2" width="11.8" height="126.0"/>
</g>
<line class="z" x1="82" y1="688.3" x2="759" y2="688.3"/>
<path class="s" d="M183 688.3V723.3M254 688.3V723.3M326 688.3V723.3M396 688.3V723.3M485 688.3V723.3M557 688.3V723.3M646 688.3V723.3M715 688.3V723.3"/>
<text class="t" x="148" y="720.5">BW</text><text class="t" x="220" y="720.5">HE</text><text class="t" x="289" y="720.5">NW</text><text class="t" x="361.5" y="720.5">SL</text><text class="t" x="451" y="720.5">BB</text><text class="t" x="523" y="720.5">SN</text><text class="t" x="592" y="720.5">TH</text><text class="t" x="683" y="720.5">HB</text>
<text class="t" x="184" y="751.6">BY</text><text class="t" x="254.5" y="751.6">NI</text><text class="t" x="327" y="751.6">RP</text><text class="t" x="395.5" y="751.6">SH</text><text class="t" x="485" y="751.6">MV</text><text class="t" x="557" y="751.6">ST</text><text class="t" x="650" y="751.6">BE</text><text class="t" x="716" y="751.6">HH</text>
</g>

<!-- ============ LEGEND ============ -->
<rect x="136" y="1924.5" width="49" height="18.5" fill="#96c5bb"/>
<rect x="136" y="1961.3" width="49" height="18.5" fill="#2369ad"/>
<text class="lg" x="203.6" y="1941.5" textLength="57" lengthAdjust="spacingAndGlyphs">2025</text>
<text class="lg" x="203.6" y="1978.3" textLength="57" lengthAdjust="spacingAndGlyphs">2070</text>

<text class="lg" x="498" y="1941.5" font-weight="bold" textLength="58" lengthAdjust="spacingAndGlyphs">West</text>
<text class="lg" x="498" y="1978.3" textLength="308" lengthAdjust="spacingAndGlyphs">BW = Baden-Württemberg</text>
<text class="lg" x="498" y="2015.7" textLength="146" lengthAdjust="spacingAndGlyphs">BY = Bayern</text>
<text class="lg" x="498" y="2053.3" textLength="152" lengthAdjust="spacingAndGlyphs">HE = Hessen</text>
<text class="lg" x="498" y="2091" textLength="231" lengthAdjust="spacingAndGlyphs">NI = Niedersachsen</text>

<text class="lg" x="910.7" y="1978.3" textLength="312" lengthAdjust="spacingAndGlyphs">NW = Nordrhein-Westfalen</text>
<text class="lg" x="910.7" y="2015.7" textLength="245" lengthAdjust="spacingAndGlyphs">RP = Rheinland-Pfalz</text>
<text class="lg" x="910.7" y="2053.3" textLength="164" lengthAdjust="spacingAndGlyphs">SL = Saarland</text>
<text class="lg" x="910.7" y="2091" textLength="286" lengthAdjust="spacingAndGlyphs">SH = Schleswig-Holstein</text>

<text class="lg" x="1328" y="1941.5" font-weight="bold" textLength="41" lengthAdjust="spacingAndGlyphs">Ost</text>
<text class="lg" x="1328" y="1978.3" textLength="203" lengthAdjust="spacingAndGlyphs">BB = Brandeburg</text>
<text class="lg" x="1328" y="2015.7" textLength="400" lengthAdjust="spacingAndGlyphs">MV = Mecklendburg-Vorpommern</text>
<text class="lg" x="1328" y="2053.3" textLength="167" lengthAdjust="spacingAndGlyphs">SN = Sachsen</text>
<text class="lg" x="1328" y="2091" textLength="247" lengthAdjust="spacingAndGlyphs">ST = Sachsen-Anhalt</text>
<text class="lg" x="1328" y="2127.7" textLength="186" lengthAdjust="spacingAndGlyphs">TH = Thüringen</text>

<text class="lg" x="1833" y="1941.5" font-weight="bold" textLength="150" lengthAdjust="spacingAndGlyphs">Stadtstaaten</text>
<text class="lg" x="1833" y="1978.3" textLength="129" lengthAdjust="spacingAndGlyphs">BE = Berlin</text>
<text class="lg" x="1833" y="2015.7" textLength="159" lengthAdjust="spacingAndGlyphs">HB = Bremen</text>
<text class="lg" x="1833" y="2053.3" textLength="180" lengthAdjust="spacingAndGlyphs">HH = Hamburg</text>

<!-- ============ NOTES ============ -->
<text class="note" x="29" y="2212.7" textLength="2075" lengthAdjust="spacingAndGlyphs">Anmerkung: Vor Umverteilung: Anteile der Länder an den Einkommensteuern sowie Ländersteuern; nach Umverteilung: Anteile der Länder an den Einkommensteuern, den Mehrwertsteuern sowie Ländersteuern.</text>
<text class="note" x="29" y="2271" textLength="1521" lengthAdjust="spacingAndGlyphs">Szenario I: Fortschreibung der Steuereinnahmen mit identischen Raten in Anlehnung an das Ergebnis für Deutschland der Steuerschätzung vom Mai 2025.</text>
<text class="note" x="29" y="2329.3" textLength="295" lengthAdjust="spacingAndGlyphs">Quelle: Eigene Berechnungen.</text>

<text x="2090.5" y="2403" font-size="23" class="teal" textLength="194" lengthAdjust="spacingAndGlyphs">© DIW Berlin 2025</text>
<line x1="29" y1="2415.3" x2="2285" y2="2415.3" stroke="#3a9186" stroke-width="2.5"/>
<text x="29" y="2476" font-size="30" class="teal" textLength="1491" lengthAdjust="spacingAndGlyphs">Die Unterschiede in der Finanzkraft der Länder verringern sich durch die Umverteilung im Szenario I deutlich.</text>
</svg>
</body></html>
